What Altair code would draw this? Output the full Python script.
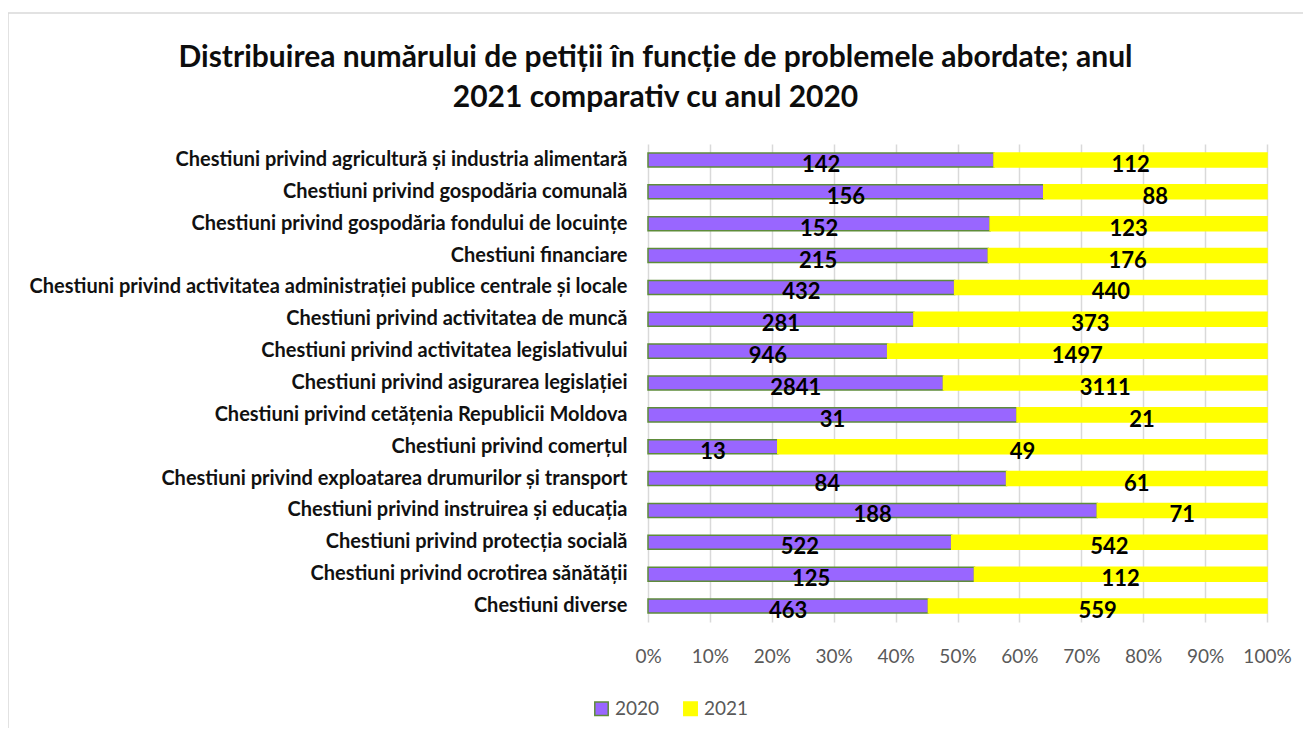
import altair as alt
import pandas as pd

categories = [
    "Chestiuni privind agricultură și industria alimentară",
    "Chestiuni privind gospodăria comunală",
    "Chestiuni privind gospodăria fondului de locuințe",
    "Chestiuni financiare",
    "Chestiuni privind activitatea administrației publice centrale și locale",
    "Chestiuni privind activitatea de muncă",
    "Chestiuni privind activitatea legislativului ",
    "Chestiuni privind asigurarea legislației",
    "Chestiuni privind cetățenia Republicii Moldova",
    "Chestiuni privind comerțul",
    "Chestiuni privind exploatarea drumurilor și transport",
    "Chestiuni privind instruirea și educația ",
    "Chestiuni privind protecția socială",
    "Chestiuni privind ocrotirea sănătății",
    "Chestiuni diverse",
]
values_2020 = [142, 156, 152, 215, 432, 281, 946, 2841, 31, 13, 84, 188, 522, 125, 463]
values_2021 = [112, 88, 123, 176, 440, 373, 1497, 3111, 21, 49, 61, 71, 542, 112, 559]
years = ["2020", "2021"]
title_lines = ["Distribuirea numărului de  petiții în funcție de problemele abordate; anul",
               "2021 comparativ cu anul 2020"]

rows = []
for c, a, b in zip(categories, values_2020, values_2021):
    rows.append({"cat": c, "year": years[0], "value": a})
    rows.append({"cat": c, "year": years[1], "value": b})
df = pd.DataFrame(rows)

W, H = 619, 478
FONT = "Lato"

base = alt.Chart(df).transform_stack(
    stack="value", groupby=["cat"], as_=["s", "e"], offset="normalize",
    sort=[alt.SortField("year", order="ascending")]
).transform_calculate(mid="(datum.s + datum.e) / 2")

y_enc = alt.Y("cat:N", sort=categories, title=None,
              scale=alt.Scale(paddingInner=0.56, paddingOuter=0.28),
              axis=alt.Axis(labelFont=FONT, labelFontWeight="bold", labelFontSize=20,
                            labelColor="#111111", labelLimit=700, labelPadding=21,
                            ticks=False, domain=False, grid=False))

bars = base.mark_bar(strokeWidth=1.5).encode(
    x=alt.X("s:Q", title=None, scale=alt.Scale(domain=[0, 1], nice=False),
            axis=alt.Axis(format="%", values=[i / 10 for i in range(11)],
                          labelFont=FONT, labelFontSize=19, labelColor="#595959",
                          labelPadding=25, labelOverlap=False, labelFlush=False,
                          labelBound=False, labelAlign="center",
                          ticks=False, domain=False,
                          grid=True, gridColor="#D9D9D9", gridWidth=1.5)),
    x2="e:Q",
    y=y_enc,
    fill=alt.Fill("year:N", scale=alt.Scale(domain=years, range=["#9966FF", "#FFFF00"]),
                  legend=alt.Legend(title=None, orient="none", direction="horizontal",
                                    legendX=-56, legendY=555,
                                    labelFont=FONT, labelFontSize=19, labelColor="#595959",
                                    symbolType="square", symbolSize=180,
                                    symbolStrokeWidth=1.5, columnPadding=20, labelOffset=4)),
    stroke=alt.Stroke("year:N", scale=alt.Scale(domain=years, range=["#5E8C3A", "#FFFF00"]),
                      legend=None),
)

labels = base.mark_text(font=FONT, fontWeight="bold", fontSize=22, color="#000000",
                        dy=5).encode(
    x=alt.X("mid:Q"),
    y=alt.Y("cat:N", sort=categories),
    text=alt.Text("value:Q"),
)

frame = alt.Chart(pd.DataFrame({"k": [0]})).mark_rect(
    fill=None, stroke="#D9D9D9", strokeWidth=1.5
).encode(x=alt.value(-640), x2=alt.value(700), y=alt.value(-131), y2=alt.value(620))

chart = alt.layer(frame, bars, labels).properties(
    width=W, height=H,
    title=alt.TitleParams(
        title_lines,
        font=FONT, fontSize=30, fontWeight="bold", color="#0D0D0D",
        anchor="middle", dx=-302, offset=-101, lineHeight=40),
    autosize=alt.AutoSizeParams(type="none"),
    padding={"left": 640, "top": 136, "right": 36, "bottom": 106},
).configure_view(stroke=None)

chart.save("out.html", embed_options={"renderer": "svg", "actions": False})
